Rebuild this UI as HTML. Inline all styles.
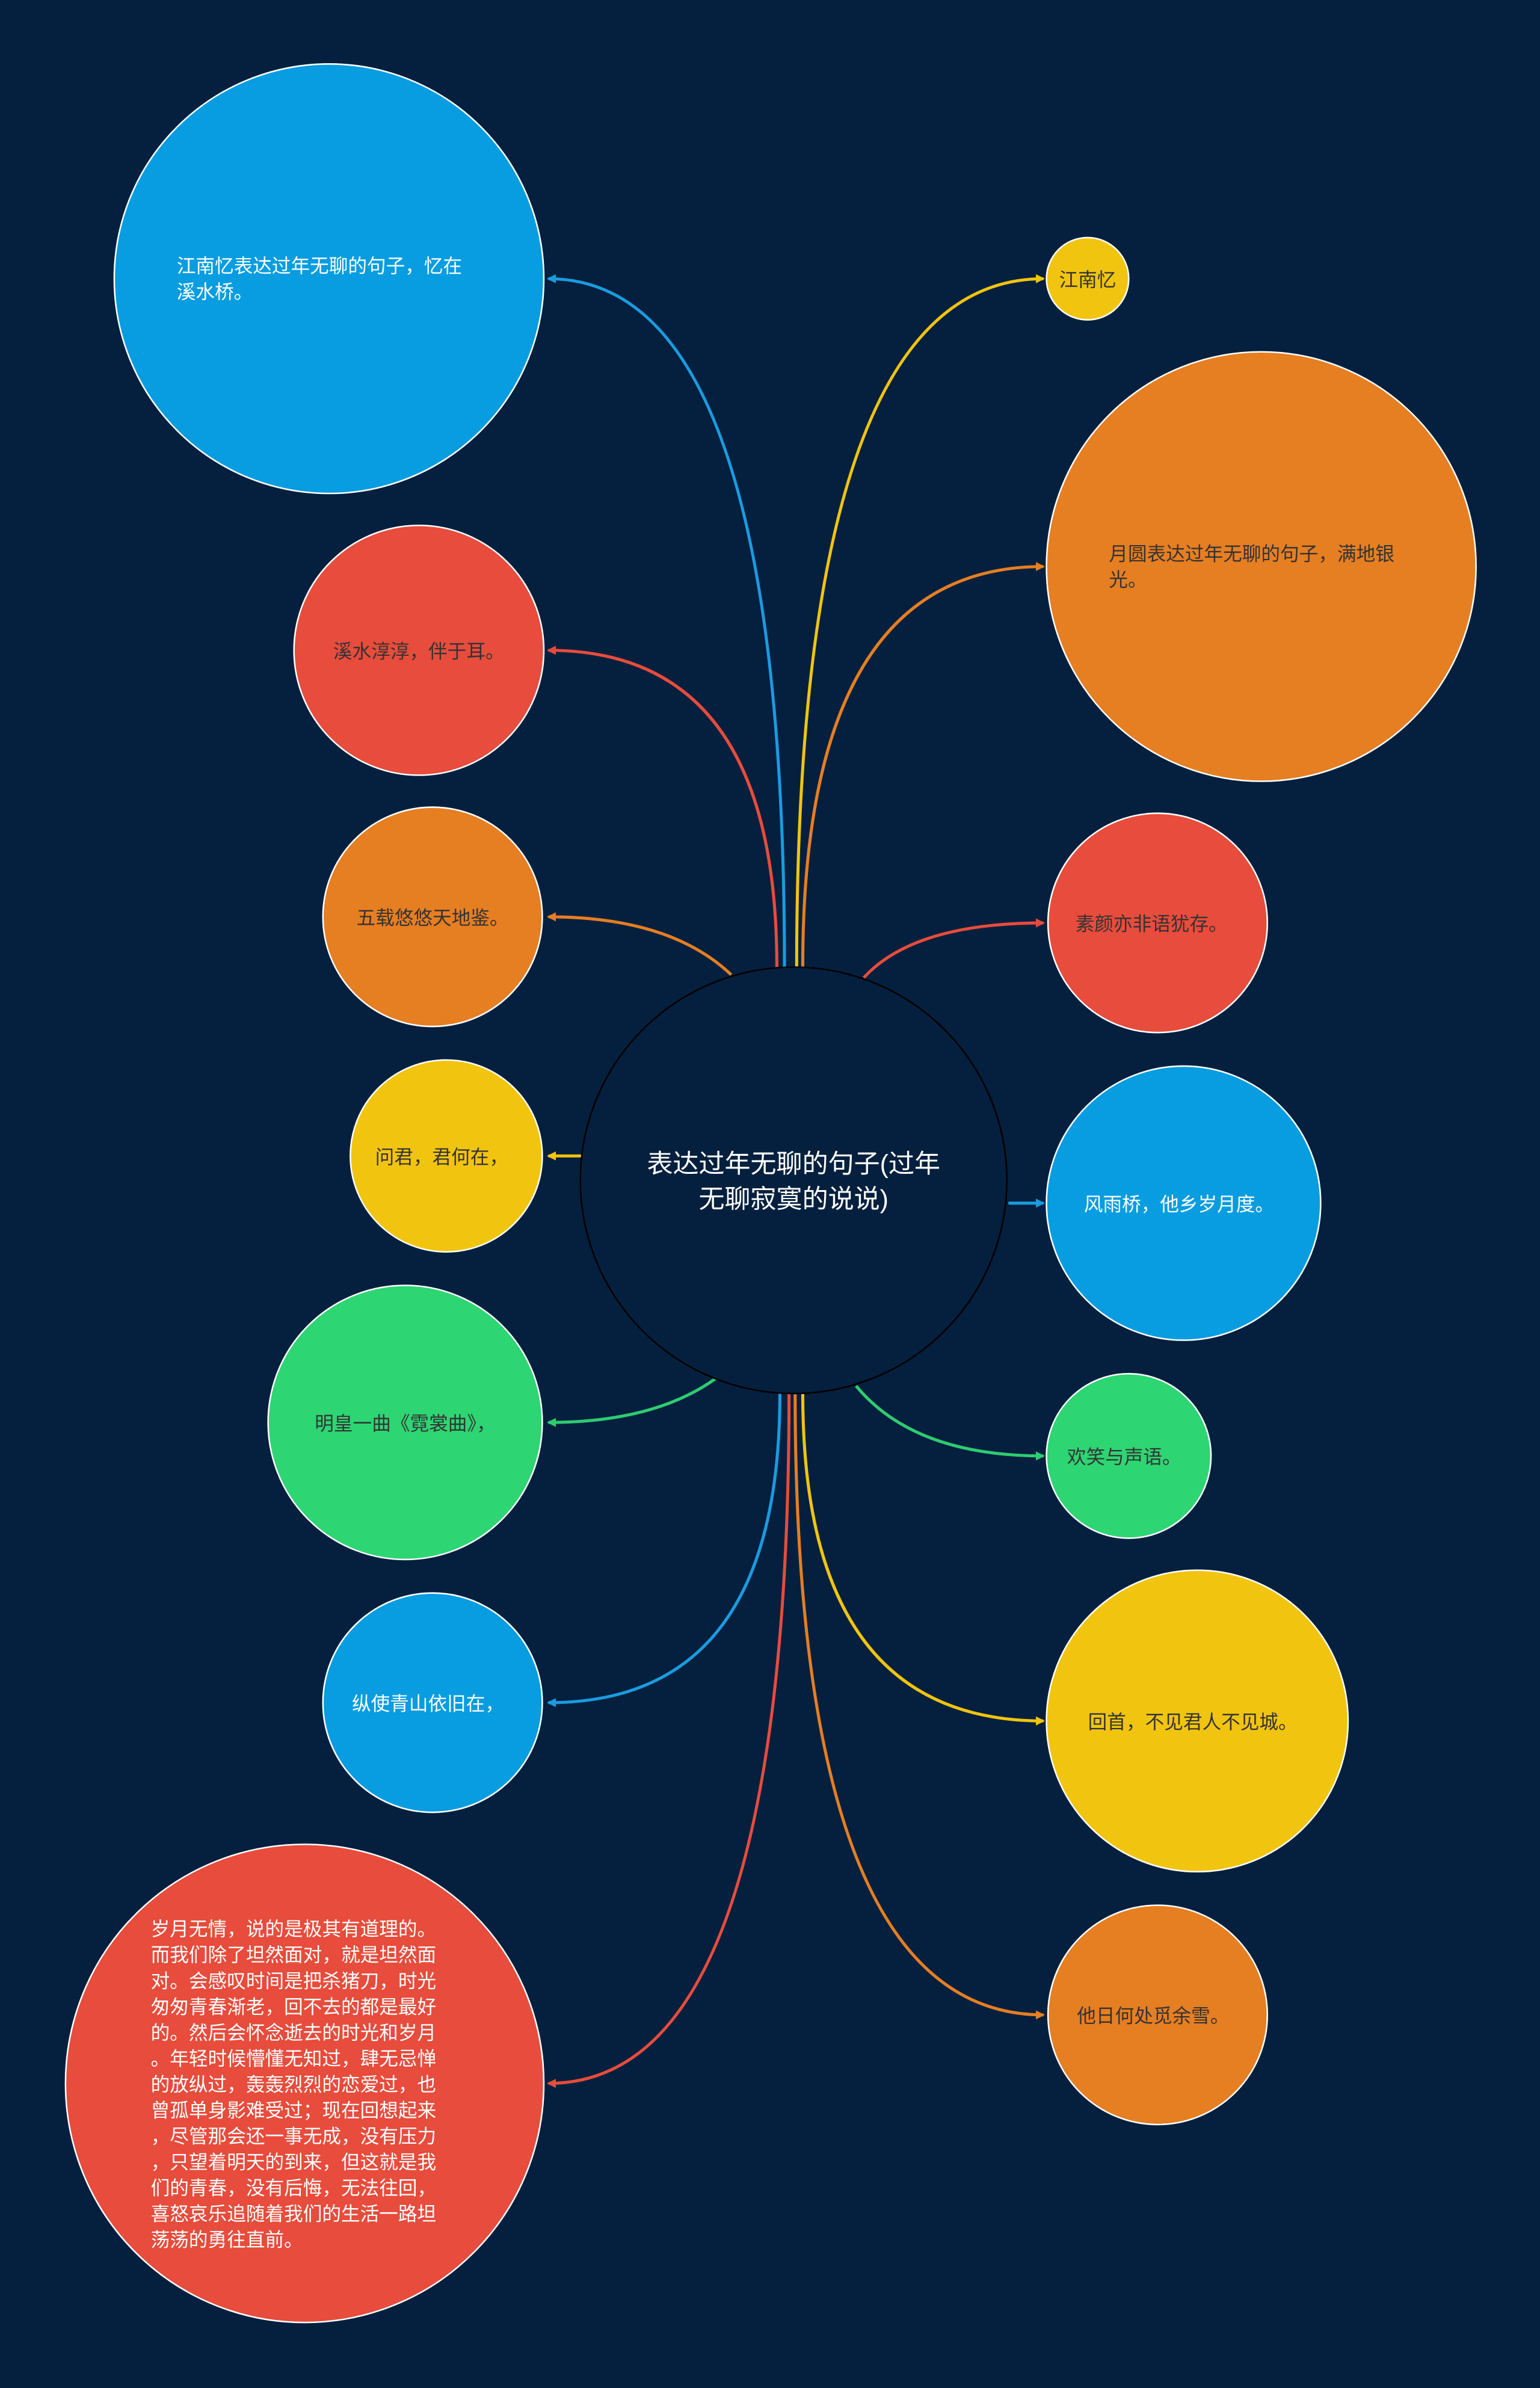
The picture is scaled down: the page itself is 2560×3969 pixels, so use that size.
<!DOCTYPE html>
<html><head><meta charset="utf-8"><style>
html,body{margin:0;padding:0;background:#04203e;}
svg{display:block;}
text{font-family:"Liberation Sans","Noto Sans CJK SC",sans-serif;}
</style></head><body>
<svg width="2560" height="3969" viewBox="0 0 1011 1568" preserveAspectRatio="none" xmlns="http://www.w3.org/2000/svg">
<defs>
<marker id="mb" markerWidth="6" markerHeight="6" refX="5" refY="3" orient="auto" markerUnits="userSpaceOnUse"><path d="M0,0 L6,3 L0,6 z" fill="#1a9be0"/></marker>
<marker id="mr" markerWidth="6" markerHeight="6" refX="5" refY="3" orient="auto" markerUnits="userSpaceOnUse"><path d="M0,0 L6,3 L0,6 z" fill="#e74c3c"/></marker>
<marker id="mo" markerWidth="6" markerHeight="6" refX="5" refY="3" orient="auto" markerUnits="userSpaceOnUse"><path d="M0,0 L6,3 L0,6 z" fill="#e67e22"/></marker>
<marker id="my" markerWidth="6" markerHeight="6" refX="5" refY="3" orient="auto" markerUnits="userSpaceOnUse"><path d="M0,0 L6,3 L0,6 z" fill="#f1c40f"/></marker>
<marker id="mg" markerWidth="6" markerHeight="6" refX="5" refY="3" orient="auto" markerUnits="userSpaceOnUse"><path d="M0,0 L6,3 L0,6 z" fill="#2ecc71"/></marker>
</defs>
<rect width="1011" height="1568" fill="#04203e"/>
<g fill="none" stroke-width="2">
<path d="M515,635 Q515,183 360,183" stroke="#1a9be0" marker-end="url(#mb)"/>
<path d="M510,635 Q510,427 360,427" stroke="#e74c3c" marker-end="url(#mr)"/>
<path d="M480,640 Q440,602 360,602" stroke="#e67e22" marker-end="url(#mo)"/>
<path d="M382,759 L360,759" stroke="#f1c40f" marker-end="url(#my)"/>
<path d="M470,905 Q430,934 360,934" stroke="#2ecc71" marker-end="url(#mg)"/>
<path d="M512,915 Q512,1118 360,1118" stroke="#1a9be0" marker-end="url(#mb)"/>
<path d="M518,915 Q518,1368 360,1368" stroke="#e74c3c" marker-end="url(#mr)"/>
<path d="M523,635 Q523,183 685,183" stroke="#f1c40f" marker-end="url(#my)"/>
<path d="M527,635 Q527,372 685,372" stroke="#e67e22" marker-end="url(#mo)"/>
<path d="M567,642 Q600,606 685,606" stroke="#e74c3c" marker-end="url(#mr)"/>
<path d="M662,790 L685,790" stroke="#1a9be0" marker-end="url(#mb)"/>
<path d="M562,910 Q600,956 685,956" stroke="#2ecc71" marker-end="url(#mg)"/>
<path d="M527,915 Q527,1130 685,1130" stroke="#f1c40f" marker-end="url(#my)"/>
<path d="M522,915 Q522,1323 685,1323" stroke="#e67e22" marker-end="url(#mo)"/>
</g>
<g stroke="#ffffff" stroke-width="1">
<circle cx="216" cy="183" r="141" fill="#079de0"/>
<circle cx="275" cy="427" r="82" fill="#e74c3c"/>
<circle cx="284" cy="602" r="72" fill="#e67e22"/>
<circle cx="293" cy="759" r="63" fill="#f1c40f"/>
<circle cx="266" cy="934" r="90" fill="#2ed573"/>
<circle cx="284" cy="1118" r="72" fill="#079de0"/>
<circle cx="200" cy="1368" r="157" fill="#e74c3c"/>
<circle cx="714" cy="183" r="27" fill="#f1c40f"/>
<circle cx="828" cy="372" r="141" fill="#e67e22"/>
<circle cx="760" cy="606" r="72" fill="#e74c3c"/>
<circle cx="777" cy="790" r="90" fill="#079de0"/>
<circle cx="741" cy="956" r="54" fill="#2ed573"/>
<circle cx="786" cy="1130" r="99" fill="#f1c40f"/>
<circle cx="760" cy="1323" r="72" fill="#e67e22"/>
</g>
<circle cx="521" cy="775" r="140" fill="#04203e" stroke="#000" stroke-width="1"/>
<g font-size="17" fill="#fff" text-anchor="middle">
<text x="521" y="770">表达过年无聊的句子(过年</text>
<text x="521" y="793">无聊寂寞的说说)</text>
</g>
<g font-size="12.5" fill="#333">
<text x="116" y="179" fill="#fff">江南忆表达过年无聊的句子，忆在</text>
<text x="116" y="196" fill="#fff">溪水桥。</text>
<text x="275" y="432" text-anchor="middle">溪水淳淳，伴于耳。</text>
<text x="284" y="607" text-anchor="middle">五载悠悠天地鉴。</text>
<text x="290" y="764" text-anchor="middle">问君，君何在，</text>
<text x="266" y="939" text-anchor="middle">明皇一曲《霓裳曲》，</text>
<text x="281" y="1123" text-anchor="middle" fill="#fff">纵使青山依旧在，</text>
<text x="714" y="188" text-anchor="middle">江南忆</text>
<text x="728" y="368">月圆表达过年无聊的句子，满地银</text>
<text x="728" y="385">光。</text>
<text x="756" y="611" text-anchor="middle">素颜亦非语犹存。</text>
<text x="774" y="795" text-anchor="middle" fill="#fff">风雨桥，他乡岁月度。</text>
<text x="738" y="961" text-anchor="middle">欢笑与声语。</text>
<text x="783" y="1135" text-anchor="middle">回首，不见君人不见城。</text>
<text x="757" y="1328" text-anchor="middle">他日何处觅余雪。</text>
</g>
<g font-size="12.5" fill="#fff">
<text x="99" y="1271">岁月无情，说的是极其有道理的。</text>
<text x="99" y="1288">而我们除了坦然面对，就是坦然面</text>
<text x="99" y="1305">对。会感叹时间是把杀猪刀，时光</text>
<text x="99" y="1322">匆匆青春渐老，回不去的都是最好</text>
<text x="99" y="1339">的。然后会怀念逝去的时光和岁月</text>
<text x="99" y="1356">。年轻时候懵懂无知过，肆无忌惮</text>
<text x="99" y="1373">的放纵过，轰轰烈烈的恋爱过，也</text>
<text x="99" y="1390">曾孤单身影难受过；现在回想起来</text>
<text x="99" y="1407">，尽管那会还一事无成，没有压力</text>
<text x="99" y="1424">，只望着明天的到来，但这就是我</text>
<text x="99" y="1441">们的青春，没有后悔，无法往回，</text>
<text x="99" y="1458">喜怒哀乐追随着我们的生活一路坦</text>
<text x="99" y="1475">荡荡的勇往直前。</text>
</g>
</svg>
</body></html>
